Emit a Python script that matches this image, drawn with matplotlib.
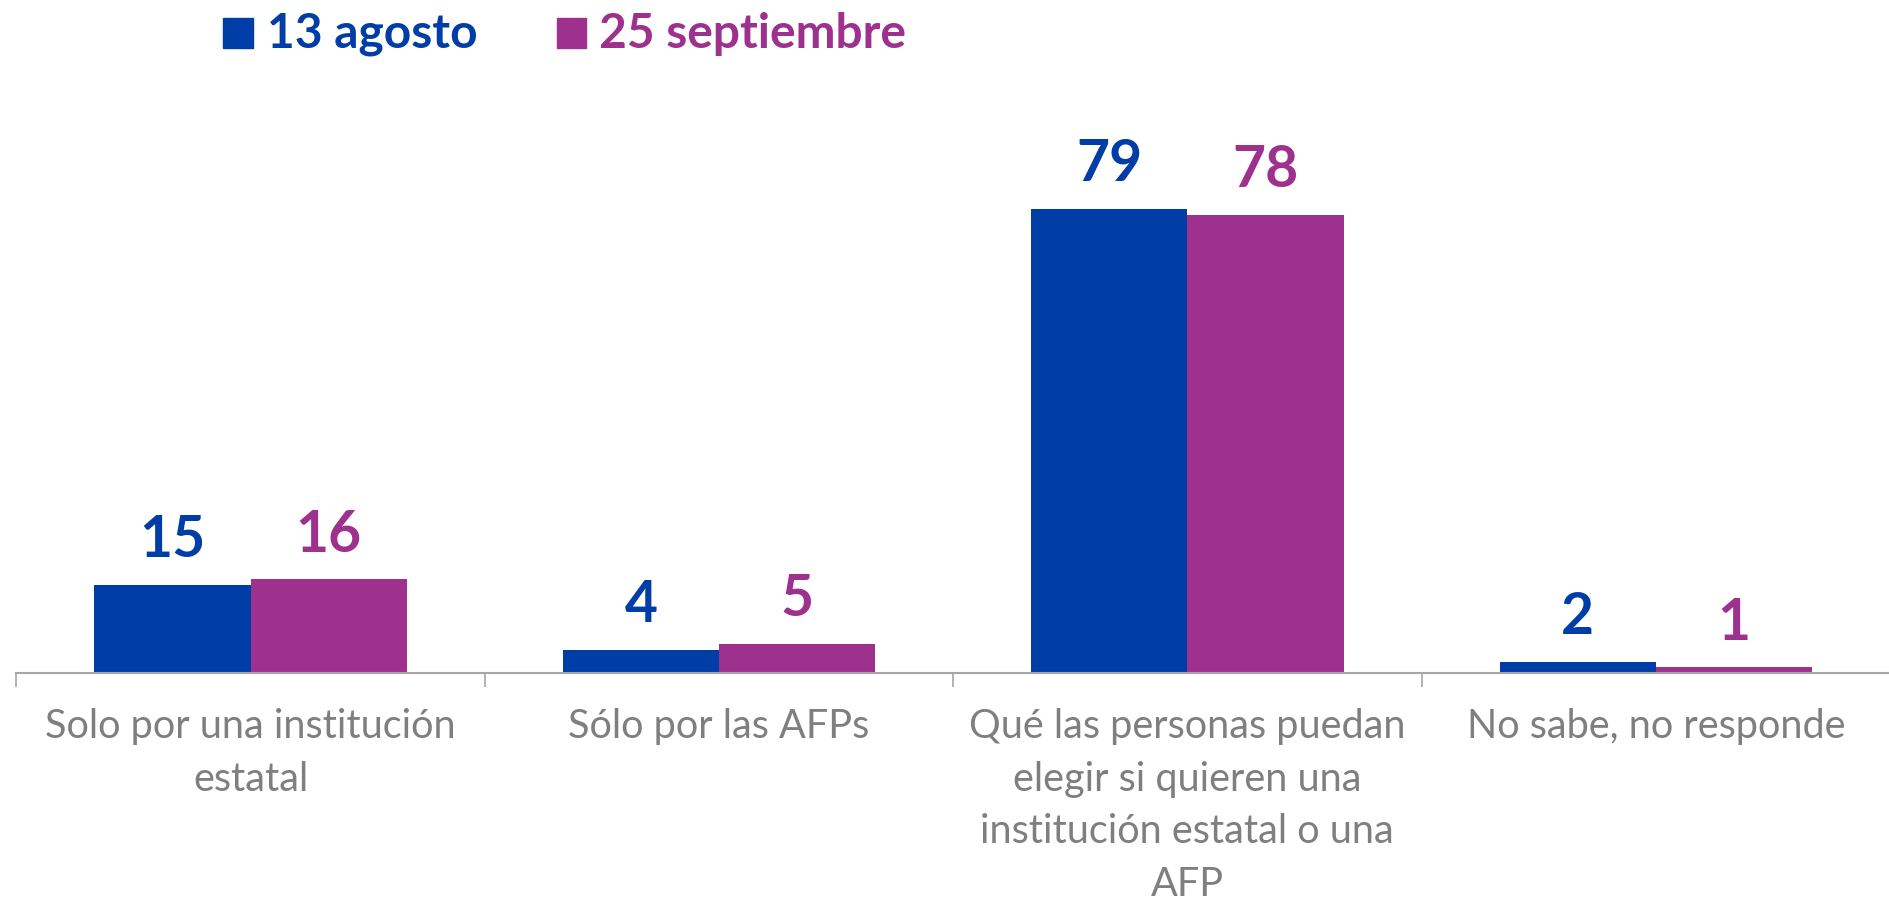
import numpy as np
import matplotlib.pyplot as plt
from matplotlib.patches import Rectangle

plt.rcParams['font.family'] = ['Lato', 'DejaVu Sans']

categorias = ['Solo por una institución\nestatal',
              'Sólo por las AFPs',
              'Qué las personas puedan\nelegir si quieren una\ninstitución estatal o una\nAFP',
              'No sabe, no responde']
agosto = [15, 4, 79, 2]
septiembre = [16, 5, 78, 1]
series = ['13 agosto', '25 septiembre']

azul = '#003DA6'
morado = '#9E308E'
gris = '#7F7F7F'

W, H = 1890, 899
fig = plt.figure(figsize=(W / 100, H / 100), dpi=100)
ax = fig.add_axes([16.3 / W, (H - 673.3) / H, 1 - 16.3 / W, 673.3 / H])

x = np.arange(len(categorias))
w = 1 / 3
b1 = ax.bar(x - w / 2, agosto, w, color=azul)
b2 = ax.bar(x + w / 2, septiembre, w, color=morado)

for barras, vals, col in [(b1, agosto, azul), (b2, septiembre, morado)]:
    for r, v in zip(barras, vals):
        ax.annotate(f'{v}', (r.get_x() + r.get_width() / 2, v),
                    xytext=(0, 20), textcoords='offset points',
                    ha='center', va='baseline', fontsize=41,
                    fontweight='bold', color=col)

ax.set_xlim(-0.5, -0.5 + (W - 16.3) / 473.7)
ax.set_ylim(0, 673.3 / 5.875)

ax.set_xticks(x)
ax.set_xticklabels(categorias, fontsize=28.5, color=gris, linespacing=1.52)
ax.tick_params(axis='x', which='major', length=0, pad=25)
ax.set_xticks(np.arange(-0.5, 4, 1), minor=True)
ax.tick_params(axis='x', which='minor', length=10, width=1.2, color='#A6A6A6')
ax.set_yticks([])

for s in ['top', 'right', 'left']:
    ax.spines[s].set_visible(False)
ax.spines['bottom'].set_color('#A6A6A6')
ax.spines['bottom'].set_linewidth(1.5)

# leyenda arriba, cuadrado + texto
for nombre, col, xc, xt in [(series[0], azul, 223.3, 267), (series[1], morado, 556.5, 599.5)]:
    fig.patches.append(Rectangle((xc / W, (H - 47.7) / H), 29.4 / W, 29.4 / H,
                                 color=col, transform=fig.transFigure, figure=fig))
    fig.text(xt / W, (H - 47.7) / H, nombre, color=col, fontsize=34.5,
             fontweight='bold', ha='left', va='baseline')

fig.savefig('out.png', dpi=100)
